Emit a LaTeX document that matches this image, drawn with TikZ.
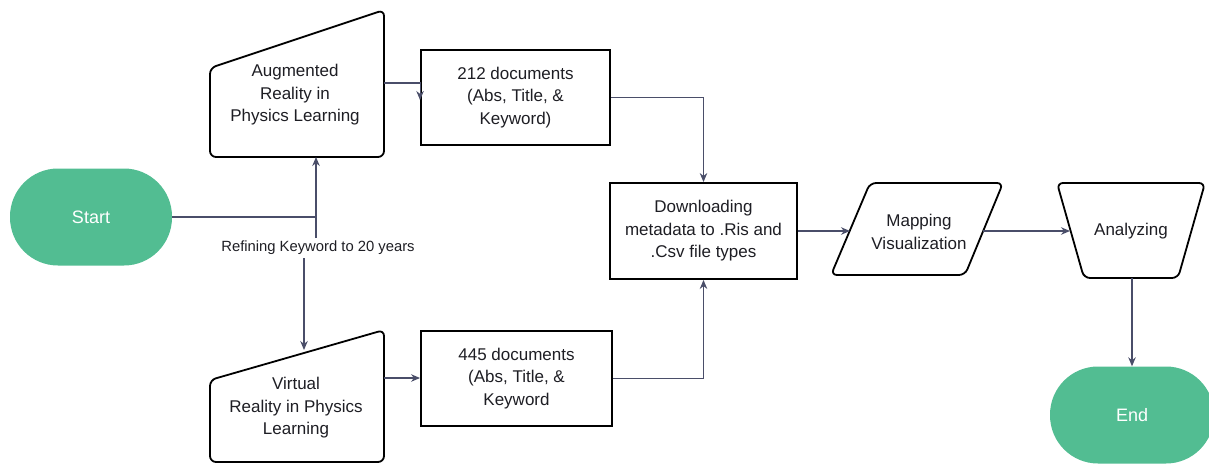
\documentclass[tikz,border=0pt]{standalone}
\usepackage{fontspec}
\setmainfont{Liberation Sans}
\usetikzlibrary{arrows.meta}
\definecolor{grn}{HTML}{52BD92}
\definecolor{ln}{HTML}{4A4E69}
\definecolor{tx}{HTML}{1E1E24}
\begin{document}
\begin{tikzpicture}[x=1pt,y=-1pt,
  shapeline/.style={draw=black, line width=1.8pt, rounded corners=6pt, fill=white},
  box/.style={draw=black, line width=1.9pt, fill=white, align=center, text=tx, font=\fontsize{17}{22.5}\selectfont, inner sep=0pt},
  txt/.style={align=center, text=tx, font=\fontsize{17}{22.5}\selectfont, inner sep=0pt},
  term/.style={fill=grn, rounded corners=48pt, minimum width=162pt, minimum height=97pt, text=white, font=\fontsize{18}{20}\selectfont},
  conn/.style={draw=ln, line width=1.1pt, -{Stealth[length=9pt,width=7.5pt]}},
  plain/.style={draw=ln, line width=1.1pt}
]
\useasboundingbox (0,0) rectangle (1209,463);

% terminals
\node[term] (start) at (91,217) {Start};
\node[term, minimum width=164pt] (end) at (1132,415) {End};

% manual input shapes
\draw[shapeline] (210,68) -- (384,10) -- (384,157) -- (210,157) -- cycle;
\node[txt] (aug) at (295,95) {Augmented\\Reality in\\Physics Learning};
\coordinate (augE) at (384,83);
\coordinate (augS) at (316,157);

\draw[shapeline] (210,380) -- (384,330) -- (384,462) -- (210,462) -- cycle;
\node[txt] (vir) at (296,408) {Virtual\\Reality in Physics\\Learning};
\coordinate (virE) at (384,378);
\coordinate (virN) at (304,350);

% boxes
\node[box, minimum width=189pt, minimum height=95pt] (d212) at (515.5,97.5) {212 documents\\(Abs, Title, \&\\Keyword)};
\node[box, minimum width=191pt, minimum height=95pt] (d445) at (516.5,378.5) {445 documents\\(Abs, Title, \&\\Keyword};
\node[box, minimum width=187pt, minimum height=96pt] (dl) at (703.5,231) {Downloading\\metadata to .Ris and\\.Csv file types};

% parallelogram
\draw[shapeline] (831,275) -- (870,183) -- (1003,183) -- (965,275) -- cycle;
\node[txt] (map) at (919,232) {Mapping\\Visualization};
\coordinate (mapW) at (850,231);
\coordinate (mapE) at (983,231);

% trapezoid
\draw[shapeline] (1057,183) -- (1205,183) -- (1178,278) -- (1084,278) -- cycle;
\node[txt] (ana) at (1131,231) {Analyzing};
\coordinate (anaW) at (1070,231);
\coordinate (anaS) at (1132,278);

% label
\node[fill=white, inner sep=2pt, text=tx, font=\fontsize{14.8}{17}\selectfont] (lbl) at (318,248) {Refining Keyword to 20 years};
\coordinate (j1) at (316,238);
\coordinate (j2) at (304,258);

% connectors
\draw[plain] (start.east) -- (start.east -| j1);
\draw[conn] (j1) -- (augS);
\draw[conn] (j2) -- (virN);
\draw[conn] (augE) -- (augE -| d212.west) -- ++(0,17);
\draw[conn] (virE) -- (virE -| d445.west);
\draw[conn] (d212.east) -- (d212.east -| dl.north) -- (dl.north);
\draw[conn] (d445.east) -- (d445.east -| dl.south) -- (dl.south);
\draw[conn] (dl.east) -- (mapW);
\draw[conn] (mapE) -- (anaW);
\draw[conn] (anaS) -- (end.north);
\end{tikzpicture}
\end{document}
